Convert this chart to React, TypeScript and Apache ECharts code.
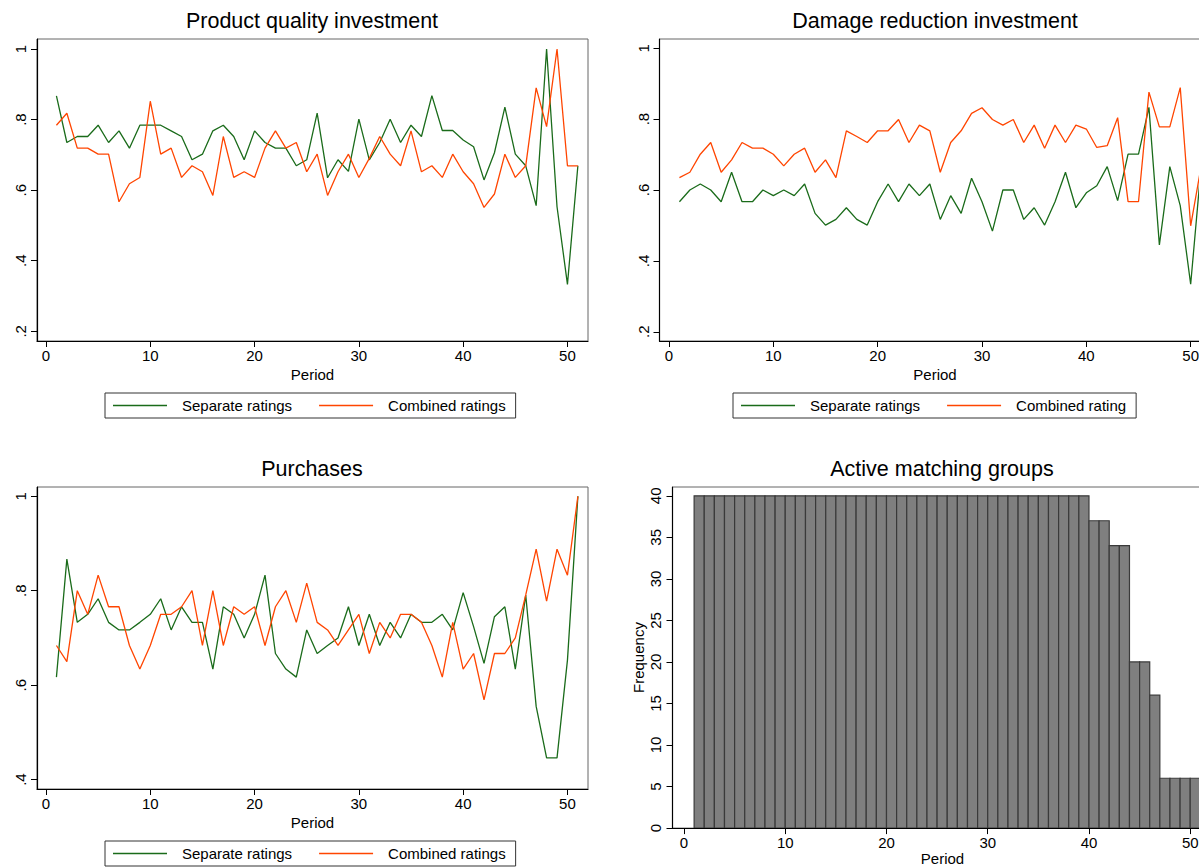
import React, { useEffect, useRef } from 'react';
import * as echarts from 'echarts';

const periods = [1, 2, 3, 4, 5, 6, 7, 8, 9, 10, 11, 12, 13, 14, 15, 16, 17, 18, 19, 20, 21, 22, 23, 24, 25, 26, 27, 28, 29, 30, 31, 32, 33, 34, 35, 36, 37, 38, 39, 40, 41, 42, 43, 44, 45, 46, 47, 48, 49, 50, 51];

const qualitySeparate = [0.867, 0.735, 0.752, 0.752, 0.784, 0.735, 0.768, 0.719, 0.784, 0.784, 0.784, 0.768, 0.752, 0.686, 0.702, 0.768, 0.784, 0.752, 0.686, 0.768, 0.735, 0.719, 0.719, 0.669, 0.686, 0.818,
  0.635, 0.686, 0.653, 0.801, 0.686, 0.735, 0.801, 0.735, 0.784, 0.752, 0.868, 0.769, 0.769, 0.742, 0.723, 0.629, 0.706, 0.835, 0.702, 0.669, 0.556, 1.0, 0.553, 0.333, 0.669];
const qualityCombined = [0.784, 0.818, 0.719, 0.719, 0.702, 0.702, 0.567, 0.618, 0.636, 0.852, 0.702, 0.719, 0.636, 0.669, 0.652, 0.585, 0.752, 0.636, 0.652, 0.636, 0.719, 0.768, 0.719, 0.735, 0.652, 0.702,
  0.585, 0.652, 0.702, 0.636, 0.690, 0.752, 0.702, 0.669, 0.768, 0.652, 0.669, 0.636, 0.702, 0.652, 0.618, 0.551, 0.589, 0.702, 0.636, 0.669, 0.890, 0.780, 1.0, 0.669, 0.669];

const damageSeparate = [0.567, 0.600, 0.617, 0.600, 0.567, 0.650, 0.567, 0.567, 0.600, 0.584, 0.600, 0.584, 0.617, 0.534, 0.501, 0.517, 0.550, 0.517, 0.501, 0.567, 0.617, 0.567, 0.617, 0.584, 0.617,
  0.517, 0.584, 0.534, 0.633, 0.567, 0.484, 0.600, 0.600, 0.517, 0.550, 0.501, 0.567, 0.650, 0.550, 0.592, 0.612, 0.666, 0.570, 0.701, 0.701, 0.833, 0.445, 0.666, 0.556, 0.334, 0.666];
const damageCombined = [0.635, 0.650, 0.701, 0.734, 0.650, 0.685, 0.734, 0.718, 0.718, 0.701, 0.668, 0.701, 0.718, 0.650, 0.685, 0.635, 0.767, 0.751, 0.734, 0.767, 0.767, 0.799, 0.734, 0.783, 0.767,
  0.650, 0.734, 0.767, 0.816, 0.832, 0.799, 0.783, 0.799, 0.734, 0.783, 0.718, 0.783, 0.734, 0.783, 0.772, 0.720, 0.725, 0.804, 0.567, 0.567, 0.876, 0.778, 0.778, 0.889, 0.499, 0.666];

const purchSeparate = [0.617, 0.867, 0.733, 0.750, 0.783, 0.733, 0.717, 0.717, 0.733, 0.750, 0.783, 0.717, 0.766, 0.733, 0.733, 0.634, 0.766, 0.750, 0.700, 0.750, 0.833, 0.667, 0.634, 0.617, 0.717, 0.667,
  0.684, 0.700, 0.766, 0.684, 0.750, 0.684, 0.733, 0.700, 0.750, 0.733, 0.733, 0.750, 0.717, 0.796, 0.724, 0.646, 0.745, 0.766, 0.634, 0.791, 0.555, 0.446, 0.446, 0.653, 1.0];
const purchCombined = [0.684, 0.650, 0.800, 0.750, 0.833, 0.766, 0.766, 0.684, 0.634, 0.684, 0.750, 0.750, 0.766, 0.800, 0.684, 0.800, 0.684, 0.766, 0.750, 0.766, 0.684, 0.766, 0.800, 0.733, 0.816, 0.733,
  0.717, 0.684, 0.717, 0.750, 0.667, 0.733, 0.700, 0.750, 0.750, 0.733, 0.684, 0.617, 0.733, 0.634, 0.667, 0.569, 0.667, 0.667, 0.700, 0.791, 0.888, 0.778, 0.888, 0.833, 1.0];

const activeGroups = [40, 40, 40, 40, 40, 40, 40, 40, 40, 40, 40, 40, 40, 40, 40, 40, 40, 40, 40, 40, 40, 40, 40, 40, 40, 40, 40, 40, 40, 40, 40, 40, 40, 40, 40, 40, 40, 40, 40,
  37, 37, 34, 34, 20, 20, 16, 6, 6, 6, 6, 6];

const xTicks = [0, 10, 20, 30, 40, 50];
const yTicksTop = [0.2, 0.4, 0.6, 0.8, 1];
const yTicksPurch = [0.4, 0.6, 0.8, 1];
const freqTicks = [0, 5, 10, 15, 20, 25, 30, 35, 40];

const titles = ['Product quality investment', 'Damage reduction investment', 'Purchases', 'Active matching groups'];
const legendNames1 = ['Separate ratings', 'Combined ratings'];
const legendNames2 = ['Separate ratings', 'Combined rating'];

const FONT = "'Liberation Sans', Arial, Helvetica, sans-serif";
const GREEN = '#1a6b1a';
const ORANGE = '#ff4500';

function fmtY(v: number) {
  if (Math.abs(v - 1) < 1e-6) return '1';
  return v.toFixed(1).replace(/^0/, '');
}

function xAxisCfg(gridIndex: number, min: number, max: number, nameGap: number) {
  return {
    type: 'value', gridIndex, min, max,
    name: 'Period', nameLocation: 'middle', nameGap,
    nameTextStyle: { fontSize: 15, color: '#000', fontFamily: FONT },
    axisLine: { show: true, onZero: false, lineStyle: { color: '#000', width: 1.2 } },
    axisTick: { show: true, length: 6, customValues: xTicks, lineStyle: { color: '#000', width: 1 } },
    axisLabel: { show: true, margin: 7, fontSize: 15, color: '#000', fontFamily: FONT, customValues: xTicks },
    splitLine: { show: false },
  };
}

function yAxisCfg(gridIndex: number, min: number, max: number, ticks: number[], fmt: (v: number) => string, extra: any = {}) {
  return {
    type: 'value', gridIndex, min, max,
    axisLine: { show: true, onZero: false, lineStyle: { color: '#000', width: 1.2 } },
    axisTick: { show: true, length: 6, customValues: ticks, lineStyle: { color: '#000', width: 1 } },
    axisLabel: { show: true, rotate: 90, margin: 9, fontSize: 15, color: '#000', fontFamily: FONT, customValues: ticks, formatter: fmt },
    splitLine: { show: false },
    ...extra,
  };
}

function legendCfg(left: number, top: number, data: string[]) {
  return {
    left, top, orient: 'horizontal', data,
    selectedMode: false,
    icon: 'rect', itemWidth: 54, itemHeight: 1.5, itemGap: 27,
    borderColor: '#333', borderWidth: 1,
    padding: [5, 10, 5, 8],
    textStyle: { fontSize: 15, color: '#000', fontFamily: FONT, padding: [0, 0, 0, 10] },
  };
}

function lineSeries(name: string, color: string, values: number[], idx: number) {
  return {
    type: 'line', name, xAxisIndex: idx, yAxisIndex: idx,
    data: periods.map((p, i) => [p, values[i]]),
    showSymbol: false, symbol: 'none', clip: true,
    color,
    lineStyle: { color, width: 1.3 },
    itemStyle: { color },
  };
}

export default function App() {
  const ref = useRef<HTMLDivElement>(null);
  useEffect(() => {
    if (!ref.current) return;
    const chart = echarts.init(ref.current, null, { renderer: 'svg' });
    const gridStyle = { show: true, borderColor: '#666', borderWidth: 1, backgroundColor: '#fff', containLabel: false };
    const option: any = {
      animation: false,
      backgroundColor: '#fff',
      textStyle: { fontFamily: FONT },
      title: [
        { text: titles[0], left: 312, top: 10, textAlign: 'center', padding: 0 },
        { text: titles[1], left: 935, top: 10, textAlign: 'center', padding: 0 },
        { text: titles[2], left: 312, top: 458, textAlign: 'center', padding: 0 },
        { text: titles[3], left: 942, top: 458, textAlign: 'center', padding: 0 },
      ].map((t) => ({ ...t, textStyle: { fontSize: 21.5, fontWeight: 'normal', color: '#000', fontFamily: FONT } })),
      grid: [
        { left: 37, top: 39, width: 551, height: 302, ...gridStyle },
        { left: 659.5, top: 39, width: 551, height: 302, ...gridStyle },
        { left: 37, top: 487, width: 551, height: 302, ...gridStyle },
        { left: 672.5, top: 487, width: 540, height: 342, ...gridStyle },
      ],
      xAxis: [
        xAxisCfg(0, -0.863, 51.97, 25.5),
        xAxisCfg(1, -0.91, 51.9, 25.5),
        xAxisCfg(2, -0.863, 51.97, 25.5),
        xAxisCfg(3, -1.135, 52.2, 22.5),
      ],
      yAxis: [
        yAxisCfg(0, 0.1725, 1.0283, yTicksTop, fmtY),
        yAxisCfg(1, 0.174, 1.026, yTicksTop, fmtY),
        yAxisCfg(2, 0.380, 1.0197, yTicksPurch, fmtY),
        yAxisCfg(3, 0, 41.06, freqTicks, (v: number) => String(v), {
          name: 'Frequency', nameLocation: 'middle', nameGap: 27, nameRotate: 90,
          nameTextStyle: { fontSize: 15, color: '#000', fontFamily: FONT },
          axisLabel: { show: true, rotate: 90, margin: 10, fontSize: 15, color: '#000', fontFamily: FONT, customValues: freqTicks },
        }),
      ],
      legend: [
        legendCfg(105, 393, legendNames1),
        legendCfg(733, 393, legendNames2),
        legendCfg(105, 841, legendNames1),
      ],
      series: [
        lineSeries(legendNames1[0], GREEN, qualitySeparate, 0),
        lineSeries(legendNames1[1], ORANGE, qualityCombined, 0),
        lineSeries(legendNames2[0], GREEN, damageSeparate, 1),
        lineSeries(legendNames2[1], ORANGE, damageCombined, 1),
        lineSeries(legendNames1[0], GREEN, purchSeparate, 2),
        lineSeries(legendNames1[1], ORANGE, purchCombined, 2),
        {
          type: 'custom', name: 'Active matching groups', xAxisIndex: 3, yAxisIndex: 3,
          data: periods.map((p, i) => [p, activeGroups[i]]),
          encode: { x: 0, y: 1 },
          clip: true,
          renderItem: (params: any, api: any) => {
            const k = api.value(0);
            const v = api.value(1);
            const a = api.coord([k, v]);
            const b = api.coord([k + 1, 0]);
            return {
              type: 'rect',
              shape: { x: a[0], y: a[1], width: b[0] - a[0], height: b[1] - a[1] },
              style: { fill: '#7f7f7f', stroke: '#3a3a3a', lineWidth: 1.2 },
            };
          },
        },
      ],
    };
    chart.setOption(option);
    return () => chart.dispose();
  }, []);
  return (
    <div style={{ position: 'absolute', left: 0, top: 0, width: 1199, height: 867, overflow: 'hidden', background: '#fff' }}>
      <div ref={ref} style={{ position: 'absolute', left: 0, top: 0, width: 1240, height: 867 }} />
    </div>
  );
}
